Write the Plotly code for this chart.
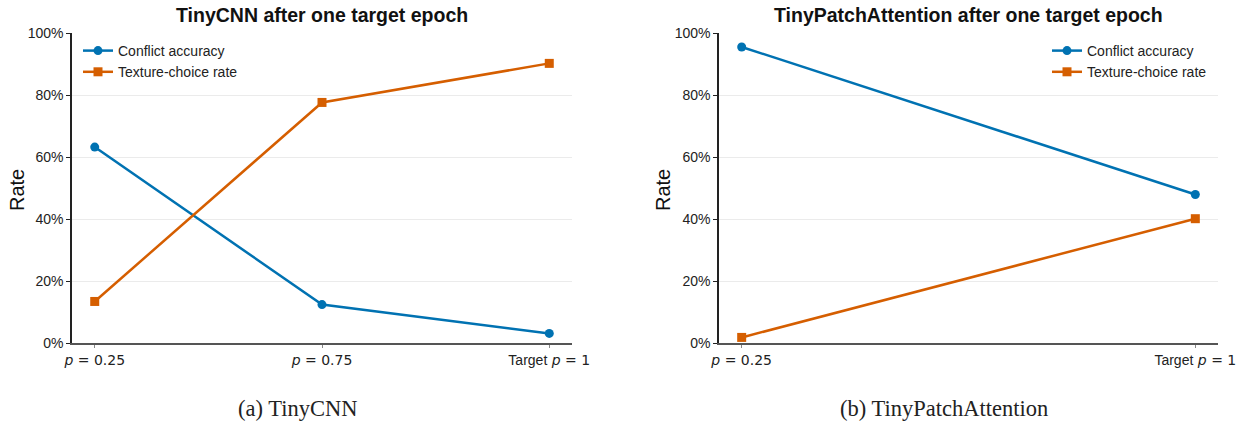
import plotly.graph_objects as go

W, H = 1251, 423

# ---- data ----
cnn_labels = ["p = 0.25", "p = 0.75", "Target p = 1"]
cnn_conflict = [0.632, 0.124, 0.031]
cnn_texture = [0.134, 0.776, 0.902]

att_labels = ["p = 0.25", "Target p = 1"]
att_conflict = [0.955, 0.479]
att_texture = [0.018, 0.401]

series_names = ["Conflict accuracy", "Texture-choice rate"]
panel_titles = ["TinyCNN after one target epoch", "TinyPatchAttention after one target epoch"]
sub_captions = ["(a) TinyCNN", "(b) TinyPatchAttention"]
y_tickvals = [0, 0.2, 0.4, 0.6, 0.8, 1.0]
y_ticktext = ["0%", "20%", "40%", "60%", "80%", "100%"]

BLUE = "#0072B2"
ORANGE = "#D55E00"
SANS = "Liberation Sans, Arial, sans-serif"


def fmt_label(s):
    s = s.replace("Target", "<span style='font-family:Liberation Sans'>Target</span>")
    return s.replace("p = ", "<i>p</i> = ")


fig = go.Figure()

for lab, conf, tex, xa, ya, leg in [
    (cnn_labels, cnn_conflict, cnn_texture, "x", "y", "legend"),
    (att_labels, att_conflict, att_texture, "x2", "y2", "legend2"),
]:
    fig.add_trace(go.Scatter(x=lab, y=conf, mode="lines+markers", name=series_names[0],
                             line=dict(color=BLUE, width=2.5),
                             marker=dict(symbol="circle", size=9, color=BLUE),
                             xaxis=xa, yaxis=ya, legend=leg))
    fig.add_trace(go.Scatter(x=lab, y=tex, mode="lines+markers", name=series_names[1],
                             line=dict(color=ORANGE, width=2.5),
                             marker=dict(symbol="square", size=9, color=ORANGE),
                             xaxis=xa, yaxis=ya, legend=leg))

ydom = [(423 - 343) / H, (423 - 33) / H]
x1dom = [72 / W, 572 / W]
x2dom = [719 / W, 1218 / W]

common_x = dict(type="category", showgrid=False, zeroline=False, showline=True,
                linecolor="#555", linewidth=1.5, ticks="outside", ticklen=3,
                tickcolor="#888", automargin=False,
                tickfont=dict(family="DejaVu Sans, sans-serif", size=14, color="#222"))
common_y = dict(range=[0, 1], tickvals=y_tickvals, ticktext=y_ticktext, showgrid=True,
                gridcolor="#ebebeb", gridwidth=1, zeroline=False, showline=True,
                linecolor="#222", linewidth=1.5, ticks="outside", ticklen=4,
                tickcolor="#222", automargin=False,
                tickfont=dict(family=SANS, size=14, color="#222"))

fig.update_layout(
    width=W, height=H,
    margin=dict(l=0, r=0, t=0, b=0, pad=0, autoexpand=False),
    paper_bgcolor="white", plot_bgcolor="white",
    xaxis=dict(domain=x1dom, anchor="y", range=[-0.1, 2.1],
               tickvals=cnn_labels, ticktext=[fmt_label(s) for s in cnn_labels], **common_x),
    yaxis=dict(domain=ydom, anchor="x", **common_y),
    xaxis2=dict(domain=x2dom, anchor="y2", range=[-0.05, 1.05],
                tickvals=att_labels, ticktext=[fmt_label(s) for s in att_labels], **common_x),
    yaxis2=dict(domain=ydom, anchor="x2", **common_y),
    legend=dict(x=78 / W, y=1 - 35 / H, xanchor="left", yanchor="top",
                bgcolor="rgba(255,255,255,0)",
                font=dict(family=SANS, size=14, color="#222")),
    legend2=dict(x=1212 / W, y=1 - 35 / H, xanchor="right", yanchor="top",
                 bgcolor="rgba(255,255,255,0)",
                 font=dict(family=SANS, size=14, color="#222")),
    showlegend=True,
)

annos = []
for i, dom in enumerate([x1dom, x2dom]):
    cx = (dom[0] + dom[1]) / 2
    annos.append(dict(text="<b>" + panel_titles[i] + "</b>", x=cx, y=1 - 15 / H,
                      xref="paper", yref="paper", showarrow=False,
                      xanchor="center", yanchor="middle",
                      font=dict(family=SANS, size=19.5, color="#111")))
    annos.append(dict(text="Rate", x=[17, 663][i] / W, y=1 - 190 / H, xref="paper", yref="paper",
                      showarrow=False, textangle=-90, xanchor="center", yanchor="middle",
                      font=dict(family=SANS, size=20, color="#111")))
    annos.append(dict(text=sub_captions[i], x=[297, 944][i] / W, y=1 - 408 / H,
                      xref="paper", yref="paper", showarrow=False,
                      xanchor="center", yanchor="middle",
                      font=dict(family="Liberation Serif, serif", size=22.5, color="#222")))
fig.update_layout(annotations=annos)

post = (
    "document.documentElement.style.margin='0';"
    "document.documentElement.style.overflow='hidden';"
    "document.body.style.margin='0';document.body.style.overflow='hidden';"
    "var d=document.getElementById('{plot_id}');"
    "d.style.position='fixed';d.style.left='0px';d.style.top='0px';"
)
fig.write_html("out.html", config={"displayModeBar": False}, post_script=post)
